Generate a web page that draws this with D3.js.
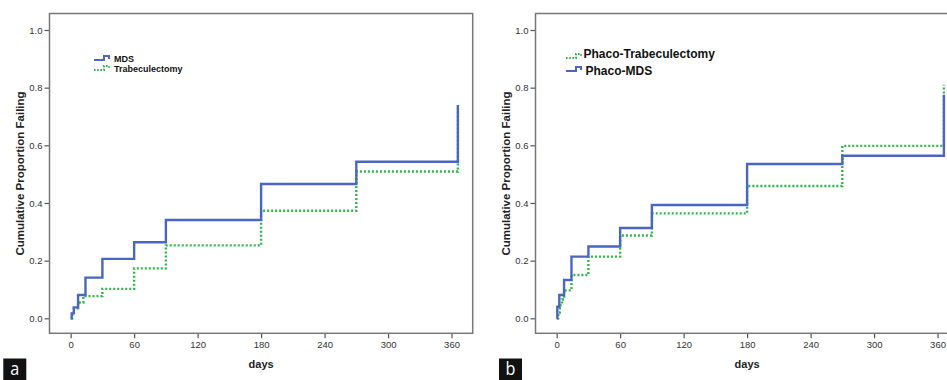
<!DOCTYPE html>
<html>
<head>
<meta charset="utf-8">
<script src="https://cdn.jsdelivr.net/npm/d3@7"></script>
<style>
  html, body { margin: 0; padding: 0; background: #fff; }
  svg { display: block; }
</style>
</head>
<body>
<svg id="chart" width="947" height="380"></svg>
<script>
// ---- Data ----
const dayTicks = [0, 60, 120, 180, 240, 300, 360];
const yTicks = [0.0, 0.2, 0.4, 0.6, 0.8, 1.0];

// Panel a
const aMdsDays   = [0, 1, 3, 7, 14, 30, 60, 90, 180, 270, 366];
const aMdsValues = [0, 0.017, 0.038, 0.081, 0.141, 0.206, 0.264, 0.341, 0.466, 0.543, 0.740];
const aTrabDays   = [0, 1.5, 3, 7, 12, 30, 60, 90, 180, 270, 366];
const aTrabValues = [0, 0.015, 0.035, 0.055, 0.077, 0.102, 0.173, 0.253, 0.373, 0.509, 0.740];

// Panel b
const bMdsDays   = [0, 0.6, 2.5, 7, 14, 30, 60, 90, 180, 270, 366];
const bMdsValues = [0, 0.040, 0.081, 0.133, 0.214, 0.249, 0.313, 0.393, 0.535, 0.564, 0.775];
const bTrabDays   = [0, 1.5, 3, 5, 7, 14, 30, 60, 90, 180, 270, 366];
const bTrabValues = [0, 0.020, 0.045, 0.065, 0.097, 0.150, 0.214, 0.287, 0.364, 0.459, 0.598, 0.810];

const BLUE = "#4a66c0";
const GREEN = "#2fb84a";

const svg = d3.select("#chart");

function drawPanel(opt) {
  const g = svg.append("g");
  const x = d3.scaleLinear().domain([-20, 380]).range([opt.x0 - 21.2, opt.x0 - 21.2 + 423.2]);
  const y = d3.scaleLinear().domain([0, 1]).range([318.3, 30]);
  const frameTop = 13.5, frameBottom = 333.3;
  const fx0 = x(-20), fx1 = x(380);

  // Axes
  const xAxis = d3.axisBottom(x).tickValues(dayTicks).tickSize(5).tickPadding(3).tickFormat(d3.format("d"));
  const yAxis = d3.axisLeft(y).tickValues(yTicks).tickSize(5).tickPadding(2).tickFormat(d3.format(".1f"));

  const gx = g.append("g").attr("transform", `translate(0,${frameBottom})`).call(xAxis);
  const gy = g.append("g").attr("transform", `translate(${fx0},0)`).call(yAxis);
  [gx, gy].forEach(a => {
    a.select(".domain").remove();
    a.selectAll(".tick line").attr("stroke", "#555").attr("stroke-width", 1.2);
    a.selectAll(".tick text").attr("fill", "#333")
      .style("font-family", "'Liberation Sans', Arial, sans-serif").style("font-size", "9.5px");
  });

  // Frame
  g.append("rect")
    .attr("x", fx0).attr("y", frameTop)
    .attr("width", fx1 - fx0).attr("height", frameBottom - frameTop)
    .attr("fill", "none").attr("stroke", "#777").attr("stroke-width", 1.5);

  // Lines
  const line = d3.line().curve(d3.curveStepAfter).x(d => x(d[0])).y(d => y(d[1]));
  opt.series.forEach(s => {
    const pts = s.days.map((d, i) => [d, s.values[i]]);
    g.append("path")
      .datum(pts)
      .attr("d", line)
      .attr("fill", "none")
      .attr("stroke", s.color)
      .attr("stroke-width", 2.4)
      .attr("stroke-dasharray", s.dashed ? "2,2" : null);
  });

  // Axis titles
  g.append("text")
    .attr("x", (fx0 + x(380)) / 2).attr("y", 368)
    .attr("text-anchor", "middle")
    .style("font-family", "'Liberation Sans', Arial, sans-serif")
    .style("font-size", "11px").style("font-weight", "bold").attr("fill", "#222")
    .text("days");
  g.append("text")
    .attr("transform", `translate(${fx0 - 26},173.5) rotate(-90)`)
    .attr("text-anchor", "middle")
    .style("font-family", "'Liberation Sans', Arial, sans-serif")
    .style("font-size", "11.5px").style("font-weight", "bold").attr("fill", "#222")
    .text("Cumulative Proportion Failing");

  // Legend
  opt.legend.forEach(l => {
    const lg = g.append("g").attr("transform", `translate(${l.x},${l.y})`);
    lg.append("path")
      .attr("d", "M0,4 H10 V0 H15 V3")
      .attr("fill", "none").attr("stroke", l.color).attr("stroke-width", 2)
      .attr("stroke-dasharray", l.dashed ? "1.6,1.6" : null);
    lg.append("text")
      .attr("x", l.tx).attr("y", l.ty)
      .style("font-family", "'Liberation Sans', Arial, sans-serif")
      .style("font-size", l.fs + "px").style("font-weight", "bold").attr("fill", "#111")
      .text(l.label);
  });

  // Panel label
  g.append("rect").attr("x", opt.lx).attr("y", 358.5).attr("width", 23).attr("height", 21.5).attr("fill", "#111");
  g.append("text")
    .attr("transform", `translate(${opt.lx + 11.5},374.5) scale(0.85,1)`)
    .attr("text-anchor", "middle")
    .style("font-family", "'Open Sans', 'DejaVu Sans', sans-serif")
    .style("font-size", "19px").attr("fill", "#fff")
    .text(opt.label);
}

drawPanel({
  x0: 70.7, lx: 3.3, label: "a",
  series: [
    { days: aTrabDays, values: aTrabValues, color: GREEN, dashed: true },
    { days: aMdsDays, values: aMdsValues, color: BLUE, dashed: false }
  ],
  legend: [
    { x: 94, y: 56, color: BLUE, dashed: false, label: "MDS", tx: 20, ty: 5.5, fs: 9 },
    { x: 94, y: 66, color: GREEN, dashed: true, label: "Trabeculectomy", tx: 20, ty: 5.5, fs: 9 }
  ]
});

drawPanel({
  x0: 556.7, lx: 499, label: "b",
  series: [
    { days: bTrabDays, values: bTrabValues, color: GREEN, dashed: true },
    { days: bMdsDays, values: bMdsValues, color: BLUE, dashed: false }
  ],
  legend: [
    { x: 566, y: 54, color: GREEN, dashed: true, label: "Phaco-Trabeculectomy", tx: 17.5, ty: 3.5, fs: 12 },
    { x: 566, y: 67, color: BLUE, dashed: false, label: "Phaco-MDS", tx: 19.5, ty: 8, fs: 12 }
  ]
});
</script>
</body>
</html>
